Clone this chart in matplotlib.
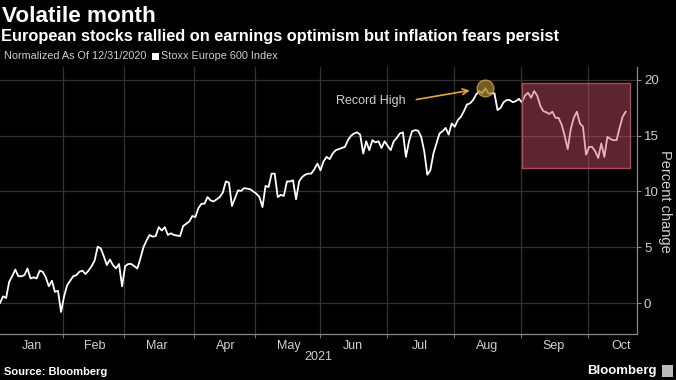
import numpy as np
import matplotlib.pyplot as plt
from matplotlib.patches import Rectangle

plt.rcParams['font.family'] = ['Liberation Sans', 'DejaVu Sans']

# Stoxx Europe 600, % change vs 12/31/2020, one value per trading day
jan = [0.0, 0.6, 0.45, 1.9, 2.4, 3.0, 2.4, 2.4, 2.5, 3.1, 2.2, 2.3, 2.2, 2.9, 2.8,
       2.3, 1.5, 2.0, 1.0, 1.1, -0.8]
feb = [0.6, 1.6, 2.0, 2.4, 2.5, 2.8, 2.9, 2.6, 2.9, 3.3, 3.8, 5.05, 4.9, 4.2, 3.4,
       3.9, 3.4, 3.1, 3.5, 1.5]
mar = [3.3, 3.5, 3.5, 3.3, 3.1, 4.0, 5.0, 5.6, 6.1, 5.95, 6.0, 6.8, 6.5, 6.8, 6.1,
       6.25, 6.1, 6.05, 6.0, 6.9, 7.1, 7.3, 7.8]
apr = [7.7, 8.5, 8.9, 8.9, 9.5, 9.2, 9.1, 9.3, 9.5, 9.9, 10.9, 10.8, 8.7, 9.4, 10.1,
       10.05, 10.3, 10.25, 10.2, 10.0]
may = [9.8, 9.5, 8.6, 10.5, 10.4, 11.6, 11.6, 9.5, 9.7, 9.6, 10.9, 10.9, 11.0, 9.3,
       10.9, 11.3, 11.5, 11.6, 11.6, 12.0, 12.5]
jun = [11.9, 12.7, 13.1, 12.9, 13.4, 13.7, 13.8, 13.9, 14.0, 14.6, 15.0, 15.2, 15.3,
       15.1, 13.4, 14.5, 13.7, 14.6, 14.4, 14.5, 13.9, 14.5]
jul = [14.1, 13.7, 14.5, 14.8, 15.2, 15.3, 13.1, 14.5, 15.4, 15.5, 15.45, 14.9, 13.6,
       11.5, 11.9, 13.4, 14.3, 15.2, 15.4, 15.7, 15.1, 16.1]
aug = [15.8, 16.4, 16.7, 17.2, 17.8, 17.9, 18.2, 18.7, 19.0, 18.8, 19.25, 18.8, 18.8,
       18.8, 17.3, 17.5, 18.0, 18.2, 18.2, 18.0, 18.1, 18.3]
sep = [18.0, 18.6, 18.85, 18.4, 19.0, 18.6, 17.7, 17.2, 17.1, 16.95, 17.15, 16.6,
       16.6, 16.0, 15.0, 13.8, 15.6, 16.6, 17.15, 16.1, 15.8, 13.3]
oct_ = [14.0, 14.0, 13.6, 13.0, 14.3, 13.1, 14.9, 14.7, 14.6, 14.6, 15.7, 16.7, 17.15]

months = ["Jan", "Feb", "Mar", "Apr", "May", "Jun", "Jul", "Aug", "Sep", "Oct"]
month_data = [jan, feb, mar, apr, may, jun, jul, aug, sep, oct_]
yticks = [0, 5, 10, 15, 20]

values = np.concatenate(month_data)
x = np.arange(len(values))
starts = np.cumsum([0] + [len(m) for m in month_data])

bg = 'black'
grid_c = '#333333'
text_c = '#d0d0d0'

fig = plt.figure(figsize=(6.76, 3.80), dpi=100, facecolor=bg)
ax = fig.add_axes([0.0, 0.121, 0.9423, 0.703], facecolor=bg)

ax.plot(x, values, color='white', lw=1.3, zorder=3)

ax.set_xlim(0, 208.7)
ax.set_ylim(-2.78, 21.17)

# month gridlines / ticks at month starts, labels mid-month
bounds = starts[1:-1] - 0.3
ax.set_xticks(bounds, minor=True)
mids = [(starts[i] + min(starts[i + 1], starts[i] + 21)) / 2 for i in range(len(months))]
mids[-1] = starts[-2] + 10.5
ax.set_xticks(mids)
ax.set_xticklabels(months)
ax.tick_params(axis='x', which='major', length=0, pad=4, labelsize=9, colors=text_c)
ax.tick_params(axis='x', which='minor', length=3, color='#888888', direction='out')
ax.grid(True, which='minor', axis='x', color=grid_c, lw=0.9)
ax.grid(True, which='major', axis='y', color=grid_c, lw=0.9)

ax.yaxis.tick_right()
ax.set_yticks(yticks)
ax.tick_params(axis='y', length=3, color='#888888', pad=2, labelsize=9.5, colors=text_c)
fig.text(665 / 676, 1 - 201 / 380, 'Percent change', rotation=270, color=text_c,
         fontsize=10.5, ha='center', va='center')

for s in ['top', 'left']:
    ax.spines[s].set_visible(False)
for s in ['bottom', 'right']:
    ax.spines[s].set_color('#888888')
    ax.spines[s].set_linewidth(0.9)

# highlighted period
bx, bw = starts[8] + 0.1, len(values) - starts[8] + 0.4
ax.add_patch(Rectangle((bx, 12.1), bw, 7.65, facecolor='#d1526b', alpha=0.45,
                       edgecolor='none', zorder=4))
ax.add_patch(Rectangle((bx, 12.1), bw, 7.65, facecolor='none', edgecolor='#b04a5e',
                       lw=1, zorder=4))

# record high marker
peak = int(np.argmax(values))
ax.plot(peak, values[peak], 'o', ms=12, mfc='#a07c2c', mec='#d8a94a', mew=1,
        alpha=0.75, zorder=5)
ax.annotate('', xy=(peak - 4.2, 19.1), xytext=(135.5, 18.2),
            arrowprops=dict(arrowstyle='->', color='#e0a83a', lw=1.2), zorder=5)
ax.text(133, 18.1, 'Record High', color=text_c, fontsize=9, ha='right', va='center')

fig.text(318 / 676, 1 - 357 / 380, '2021', color=text_c, fontsize=9,
         ha='center', va='center')

# titles and legend
fig.text(0.003, 1 - 16 / 380, 'Volatile month', color='white', fontsize=16.2,
         fontweight='bold', va='center')
fig.text(0.001, 1 - 36 / 380,
         'European stocks rallied on earnings optimism but inflation fears persist',
         color='white', fontsize=11.8, fontweight='bold', va='center')
fig.text(4 / 676, 1 - 56 / 380, 'Normalized As Of 12/31/2020', color=text_c,
         fontsize=7.8, va='center')
fig.add_artist(Rectangle((152 / 676, 1 - 60 / 380), 7 / 676, 7 / 380,
                         transform=fig.transFigure, facecolor='white', edgecolor='none'))
fig.text(161 / 676, 1 - 56 / 380, 'Stoxx Europe 600 Index', color=text_c,
         fontsize=7.8, va='center')

fig.text(4 / 676, 1 - 372 / 380, 'Source: Bloomberg', color='white', fontsize=8,
         fontweight='bold', va='center')
fig.text(657 / 676, 1 - 371 / 380, 'Bloomberg', color='white', fontsize=9.5,
         fontweight='bold', ha='right', va='center')
fig.add_artist(Rectangle((662 / 676, 1 - 377 / 380), 11 / 676, 12 / 380,
                         transform=fig.transFigure, facecolor='#bbbbbb', edgecolor='none'))

fig.savefig('out.png', dpi=100, facecolor=bg)
